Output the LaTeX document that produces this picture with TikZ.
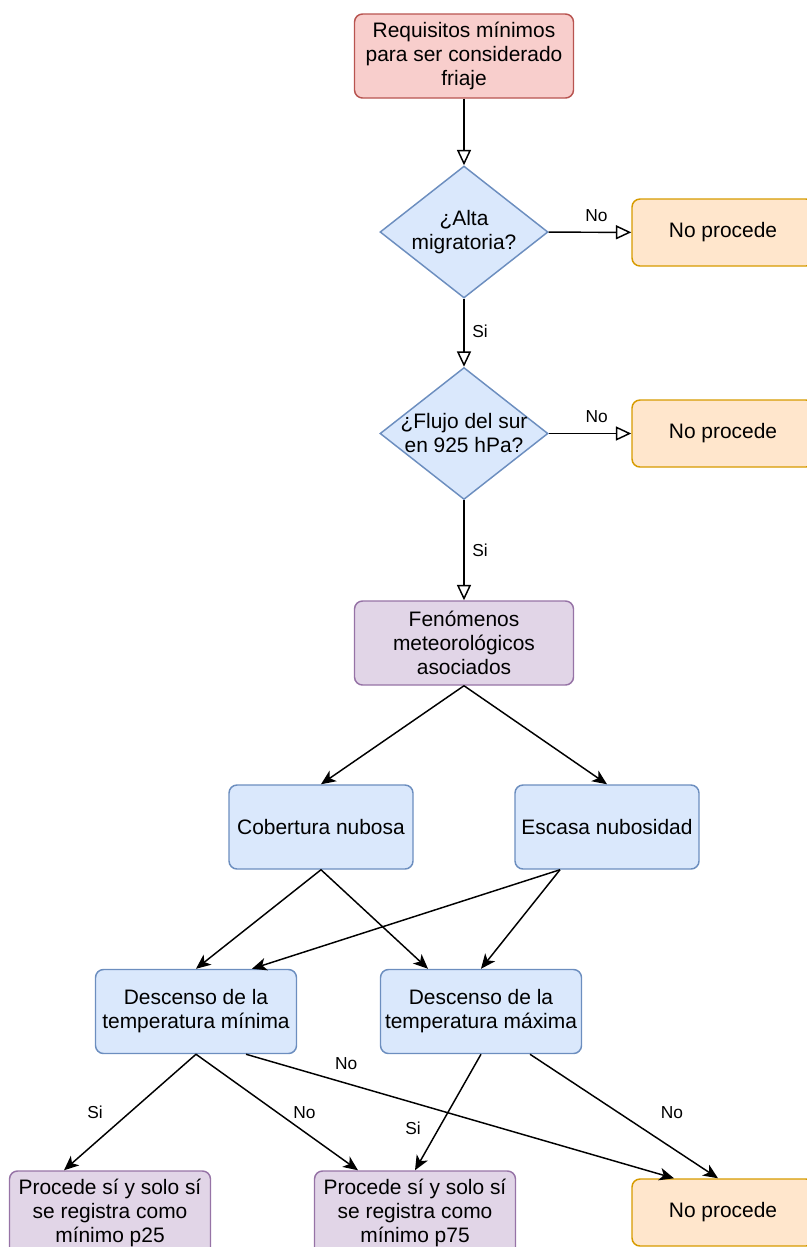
\documentclass[tikz,border=0pt]{standalone}
\usepackage{fontspec}
\setmainfont{Liberation Sans}
\usepackage{tikz}
\usetikzlibrary{arrows.meta,shapes.geometric,positioning}
\definecolor{rojoF}{HTML}{F8CECC}
\definecolor{rojoL}{HTML}{B85450}
\definecolor{azulF}{HTML}{DAE8FC}
\definecolor{azulL}{HTML}{6C8EBF}
\definecolor{naranjaF}{HTML}{FFE6CC}
\definecolor{naranjaL}{HTML}{D79B00}
\definecolor{moradoF}{HTML}{E1D5E7}
\definecolor{moradoL}{HTML}{9673A6}

\begin{document}
\begin{tikzpicture}[x=0.75pt,y=-0.75pt,
  caja/.style={rectangle,rounded corners=6pt,line width=1.1pt,align=center,inner sep=0pt,
    minimum width=150.75pt,minimum height=63pt,font=\fontsize{15.7}{18}\selectfont},
  rombo/.style={diamond,draw=azulL,fill=azulF,line width=1.1pt,inner sep=0pt,
    minimum width=126pt,minimum height=99pt},
  textorombo/.style={align=center,inner sep=0pt,font=\fontsize{15.7}{18}\selectfont},
  etiq/.style={inner sep=0pt,font=\fontsize{13}{15}\selectfont},
  flechaA/.style={line width=1.1pt,-{Triangle[open,length=11.5pt,width=10.5pt]}},
  flechaB/.style={line width=1.1pt,-{Stealth[length=11pt,width=9.5pt,inset=3pt]}}]
%Todo en pixeles del dibujo original (807 x 1247)
\useasboundingbox (0,0) rectangle (807,1247);
\clip (0,0) rectangle (807,1247);
%Parte de arriba
\node[caja,draw=rojoL,fill=rojoF,minimum width=164.25pt] (req) at (464,56) {Requisitos mínimos\\para ser considerado\\friaje};
\node[rombo,label={[textorombo]center:¿Alta\\migratoria?}] (alta) at (464,232) {};
\node[caja,draw=naranjaL,fill=naranjaF,minimum width=136.5pt,minimum height=50.25pt] (noA) at (723,232.5) {No procede};
\node[rombo,label={[textorombo]center:¿Flujo del sur\\en 925 hPa?}] (flujo) at (464,433.5) {};
\node[caja,draw=naranjaL,fill=naranjaF,minimum width=136.5pt,minimum height=50.25pt] (noF) at (723,433.5) {No procede};
\node[caja,draw=moradoL,fill=moradoF,minimum width=164.25pt] (fen) at (464,643) {Fenómenos\\meteorológicos\\asociados};
%Nubes
\node[caja,draw=azulL,fill=azulF,minimum width=138pt] (cob) at (321,827) {Cobertura nubosa};
\node[caja,draw=azulL,fill=azulF,minimum width=138pt] (esc) at (607,827) {Escasa nubosidad};
%Temperaturas
\node[caja,draw=azulL,fill=azulF] (dmin) at (196,1011.5) {Descenso de la\\temperatura mínima};
\node[caja,draw=azulL,fill=azulF] (dmax) at (481,1011.5) {Descenso de la\\temperatura máxima};
%Resultados
\node[caja,draw=moradoL,fill=moradoF] (p25) at (110,1213) {Procede sí y solo sí\\se registra como\\mínimo p25};
\node[caja,draw=moradoL,fill=moradoF] (p75) at (415,1213) {Procede sí y solo sí\\se registra como\\mínimo p75};
\node[caja,draw=naranjaL,fill=naranjaF,minimum width=136.5pt,minimum height=50.25pt] (noP) at (723,1212.5) {No procede};

\draw[flechaA] (req) -- (alta);
\draw[flechaA] (alta) -- node[etiq,pos=0.58,yshift=12.75pt] (noAlta) {No} (noA);
\draw[flechaA] (alta) -- node[etiq,pos=0.48,xshift=12pt] (siAlta) {Si} (flujo);
\draw[flechaA] (flujo) -- node[etiq,pos=0.58,yshift=12.75pt] (noFlujo) {No} (noF);
\draw[flechaA] (flujo) -- node[etiq,pos=0.5,xshift=12pt] (siFlujo) {Si} (fen);
\draw[flechaB] (fen.south) -- (cob.north);
\draw[flechaB] (fen.south) -- (esc.north);
\draw[flechaB] (cob.south) -- (dmin.north);
\draw[flechaB] (cob.south) -- ([xshift=-39.75pt]dmax.north);
\draw[flechaB] ([xshift=-35.25pt]esc.south) -- ([xshift=42pt]dmin.north);
\draw[flechaB] ([xshift=-35.25pt]esc.south) -- (dmax.north);
\draw[flechaB] (dmin.south) -- node[etiq,pos=0.5,xshift=-26.25pt] (siMin) {Si} ([xshift=-34.5pt]p25.north);
\draw[flechaB] (dmin.south) -- node[etiq,pos=0.5,xshift=20.5pt] (noMin) {No} ([xshift=-42.75pt]p75.north);
\draw[flechaB] ([xshift=37.5pt]dmin.south) -- node[etiq,pos=0.234,yshift=15pt] (noMin2) {No} ([xshift=-36.75pt]noP.north);
\draw[flechaB] (dmax.south) -- node[etiq,pos=0.636,xshift=-19.5pt] (siMax) {Si} (p75.north);
\draw[flechaB] ([xshift=36.75pt]dmax.south) -- node[etiq,pos=0.468,xshift=40.5pt] (noMax) {No} ([xshift=-3.75pt]noP.north);
\end{tikzpicture}
\end{document}
